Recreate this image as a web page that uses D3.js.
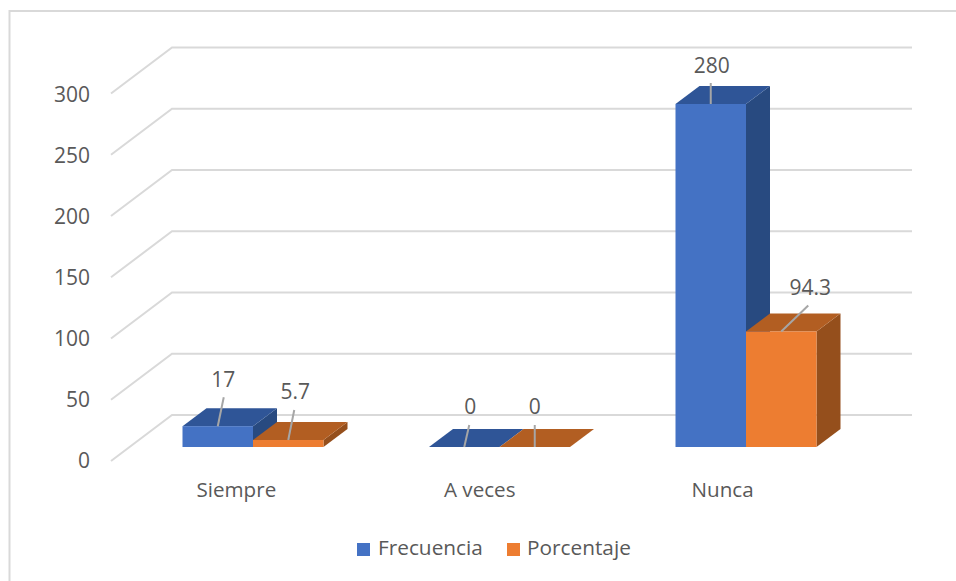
<!DOCTYPE html>
<html>
<head>
<meta charset="utf-8">
<script src="https://cdn.jsdelivr.net/npm/d3@7/dist/d3.min.js"></script>
<style>
html,body{margin:0;padding:0;background:#fff;}
svg{display:block;}
text{font-family:"Open Sans","Noto Sans",sans-serif;fill:#595959;}
</style>
</head>
<body>
<svg id="chart" width="956" height="581"></svg>
<script>
// Survey answers and their counts / shares
const categories = ["Siempre", "A veces", "Nunca"];
const seriesNames = ["Frecuencia", "Porcentaje"];
const frecuencia = [17, 0, 280];
const porcentaje = [5.7, 0, 94.3];
const valueTicks = [0, 50, 100, 150, 200, 250, 300];

const faceColors = [
  {front: "#4472c4", top: "#2f5597", side: "#284a80"},
  {front: "#ed7d31", top: "#b25e22", side: "#954f1c"}
];

const svg = d3.select("#chart");

// Frame of the chart area
svg.append("path").attr("d", "M9.5 581V11H956")
  .attr("fill", "none").attr("stroke", "#d9d9d9").attr("stroke-width", 2);

// Oblique projection: wall depth and bar depth
const wall = {dx: 61, dy: -46};
const bar = {dx: 24, dy: -18};

const wallX0 = 111, wallX1 = 912;
const yFloor = d3.scaleLinear().domain([0, 300]).range([461, 93.5]);
const yBar = d3.scaleLinear().domain([0, 300]).range([447, 79.5]);
const yTickLabel = d3.scaleLinear().domain([0, 300]).range([467.5, 101.5]);

const groupWidth = 141;
const x = d3.scaleBand().domain(categories).range([129.75, 869.25]);
const groupX = c => x(c) + (x.bandwidth() - groupWidth) / 2;
const xSeries = d3.scaleBand().domain(seriesNames).range([0, groupWidth]);

// Gridlines: floor-edge diagonal plus the back-wall run
const grid = svg.append("g").attr("fill", "none")
  .attr("stroke", "#d9d9d9").attr("stroke-width", 2);
valueTicks.forEach(t => {
  const y = yFloor(t);
  grid.append("path")
    .attr("d", `M${wallX0} ${y}L${wallX0 + wall.dx} ${y + wall.dy}H${wallX1}`);
});

// Value axis labels
svg.append("g").selectAll("text").data(valueTicks).join("text")
  .attr("x", 90).attr("y", d => yTickLabel(d))
  .attr("text-anchor", "end").attr("font-size", 21)
  .text(d => d);

// One extruded bar: side and top faces behind the front face
function drawBar(g, px, w, value, colors) {
  const top = yBar(value), base = yBar(0);
  g.append("path").attr("fill", colors.side)
    .attr("d", `M${px + w} ${top}L${px + w + bar.dx} ${top + bar.dy}V${base + bar.dy}L${px + w} ${base}Z`);
  g.append("path").attr("fill", colors.top)
    .attr("d", `M${px} ${top}L${px + bar.dx} ${top + bar.dy}H${px + w + bar.dx}L${px + w} ${top}Z`);
  g.append("rect").attr("fill", colors.front)
    .attr("x", px).attr("y", top).attr("width", w).attr("height", base - top);
}

// Leader-line end [dx, dy] and label position [dx, dy] relative to each bar's top centre
const labelSpots = [
  [[6, -29, 5.5, -39], [6, -30, 7, -41]],
  [[5, -22, 6, -33], [0, -22, 0, -33]],
  [[0, -21, 1, -31], [27, -26, 29, -36.5]]
];

const values = [frecuencia, porcentaje];
const barsLayer = svg.append("g");
const labelLayer = svg.append("g");

categories.forEach((c, ci) => {
  seriesNames.forEach((s, si) => {
    const px = groupX(c) + xSeries(s);
    const w = xSeries.bandwidth();
    const v = values[si][ci];
    drawBar(barsLayer, px, w, v, faceColors[si]);

    const cx = px + w / 2, ty = yBar(v);
    const [x0, y0, lx, ly] = labelSpots[ci][si];
    labelLayer.append("line")
      .attr("x1", cx).attr("y1", ty)
      .attr("x2", cx + x0).attr("y2", ty + y0)
      .attr("stroke", "#a6a6a6").attr("stroke-width", 2);
    labelLayer.append("text")
      .attr("x", cx + lx).attr("y", ty + ly)
      .attr("text-anchor", "middle").attr("font-size", 21)
      .text(v);
  });
});

// Category labels, left-aligned under each pair of bars
svg.append("g").selectAll("text").data(categories).join("text")
  .attr("x", (d, i) => groupX(d) + 14 + i)
  .attr("y", 497)
  .attr("font-size", 20.6)
  .text(d => d);

// Legend
const legendX = [357, 507], legendText = [378, 527];
seriesNames.forEach((s, i) => {
  svg.append("rect").attr("x", legendX[i]).attr("y", 543)
    .attr("width", 13).attr("height", 13).attr("fill", faceColors[i].front);
  svg.append("text").attr("x", legendText[i]).attr("y", 555)
    .attr("font-size", 20.8).text(s);
});
</script>
</body>
</html>
